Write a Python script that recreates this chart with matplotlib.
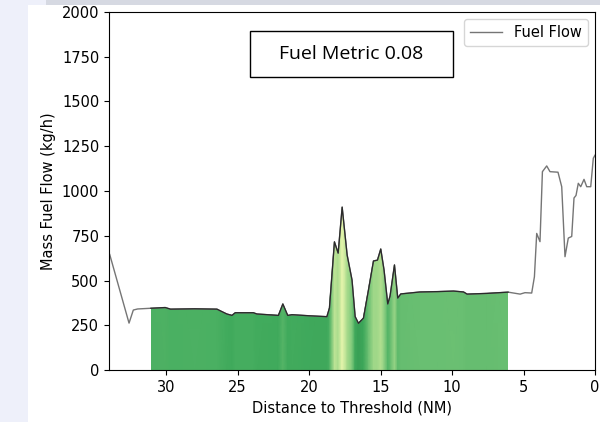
"""
Fuel flow vs distance to threshold, coloured fill under the approach segment
"""

import matplotlib
matplotlib.use("Agg")
import matplotlib.pyplot as plt
from matplotlib.colors import Normalize
from matplotlib.patches import Rectangle
import numpy as np

# distance to threshold (NM) and mass fuel flow (kg/h)
distance = [
    33.95, 32.6, 32.3, 32.0, 31.07, 30.07, 29.7, 28.0, 26.45, 26.2, 25.76, 25.4,
    25.17, 23.9, 23.66, 22.15, 21.84, 21.5, 21.2, 20.0, 18.76, 18.58, 18.23,
    17.97, 17.69, 17.34, 17.0, 16.78, 16.55, 16.2, 15.85, 15.5, 15.22, 14.99,
    14.76, 14.5, 14.34, 14.03, 13.8, 13.59, 12.24, 11.0, 9.9, 9.2, 8.95, 7.55,
    6.08, 5.7, 5.24, 4.9, 4.43, 4.24, 4.08, 3.85, 3.68, 3.38, 3.15, 2.59, 2.33,
    2.10, 1.87, 1.63, 1.47, 1.33, 1.17, 1.0, 0.77, 0.58, 0.3, 0.12, 0.0,
]
fuel_flow = [
    645, 262, 335, 341, 345, 349, 340, 342, 340, 330, 313, 305,
    320, 320, 313, 305, 369, 305, 309, 303, 298, 346, 716,
    653, 910, 642, 503, 298, 261, 290, 447, 609, 614, 676,
    559, 369, 413, 587, 402, 425, 436, 438, 441, 436, 424, 428,
    435, 430, 424, 432, 430, 521, 763, 717, 1108, 1140, 1108, 1105, 1024,
    633, 737, 746, 961, 975, 1043, 1024, 1065, 1024, 1024, 1183, 1200,
]

# stretch of the approach that is coloured
fill_start = 31.07
fill_end = 6.08

fuel_metric = 0.08

x = np.array(distance)
y = np.array(fuel_flow, dtype=float)
seg = (x <= fill_start) & (x >= fill_end)
xs, ys = x[seg], y[seg]

fig = plt.figure(figsize=(6.0, 4.22), dpi=100)
fig.patch.set_facecolor("#eef0fa")
fig.patches.append(Rectangle((28 / 600, 0), 1, 417 / 422, transform=fig.transFigure,
                             facecolor="white", edgecolor="none", zorder=-2))
fig.patches.append(Rectangle((46 / 600, 417 / 422), 1, 1, transform=fig.transFigure,
                             facecolor="#d6d9e2", edgecolor="none", zorder=-2))

ax = fig.add_axes([0.1817, 0.1232, 0.81, 0.8484])

# coloured fill, clipped to the area under the curve
poly = ax.fill_between(xs, ys, 0, facecolor="none", edgecolor="none")
norm = Normalize(vmin=-212, vmax=1177)
X = np.vstack([xs, xs])
Y = np.vstack([np.zeros_like(xs), np.full_like(xs, 1000.0)])
C = np.vstack([ys, ys])
mesh = ax.pcolormesh(X, Y, C, cmap="YlGn_r", norm=norm, shading="gouraud", zorder=1)
mesh.set_clip_path(poly.get_paths()[0], ax.transData)

ax.plot(x, y, color="#757575", lw=1.0, label="Fuel Flow", zorder=2)
ax.plot(xs, ys, color="#2a2a2a", lw=0.9, zorder=3)

ax.set_xlim(34, 0)
ax.set_ylim(0, 2000)
ax.set_xticks(np.arange(30, -1, -5))
ax.set_yticks(np.arange(0, 2001, 250))
ax.tick_params(labelsize=10.5)
ax.set_xlabel("Distance to Threshold (NM)", fontsize=10.5)
ax.set_ylabel("Mass Fuel Flow (kg/h)", fontsize=10.5)

ax.legend(loc="upper right", fontsize=10.5, handlelength=2.2)

ax.add_patch(Rectangle((0.29, 0.818), 0.418, 0.129, transform=ax.transAxes,
                       facecolor="white", edgecolor="black", lw=1.0, zorder=5))
ax.text(0.498, 0.882, f"Fuel Metric {fuel_metric}", transform=ax.transAxes,
        ha="center", va="center", fontsize=14, zorder=6,
        family=["Liberation Sans Narrow", "Open Sans", "DejaVu Sans"])

fig.savefig("out.png", dpi=100, facecolor=fig.get_facecolor())
